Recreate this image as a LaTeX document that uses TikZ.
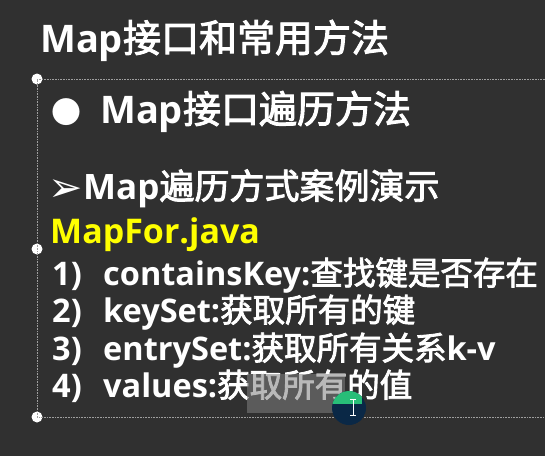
\documentclass[tikz,border=0pt]{standalone}
\usepackage{fontspec}
\setmainfont{Noto Sans CJK SC}[BoldFont={Noto Sans CJK SC}, BoldFeatures={FakeBold=2.5}]
\newfontfamily\latfont{Open Sans}
\newfontfamily\symfont{DejaVu Sans}
\newcommand{\lat}[1]{{\latfont\bfseries #1}}
\definecolor{board}{RGB}{48,48,48}
\definecolor{javayellow}{RGB}{255,255,0}
\definecolor{cursorblue}{RGB}{10,40,70}
\definecolor{cursorgreen}{RGB}{40,190,120}

\tikzset{
  slide/.style={text=white, anchor=base west, inner sep=0pt},
  heading/.style={slide, font=\fontsize{38}{40}\selectfont\bfseries},
  subhead/.style={slide, font=\fontsize{35}{38}\selectfont\bfseries},
  itemtxt/.style={slide, font=\fontsize{32.5}{35}\selectfont\bfseries},
  handle/.style={circle, fill=white, inner sep=0pt, minimum size=11pt},
  frame/.style={densely dotted, gray!75, line width=0.6pt}
}

\begin{document}
\begin{tikzpicture}[x=1pt,y=-1pt]
  \fill[board] (0,0) rectangle (545,456);
  \useasboundingbox (0,0) rectangle (545,456);

  % text box frame
  \coordinate (fr_t) at (545,79);
  \coordinate (fr_b) at (545,417);
  \node[handle] (h_1) at (37,79) {};
  \node[handle] (h_2) at (37,249) {};
  \node[handle] (h_3) at (37,417) {};
  \draw[frame] (fr_t) -- (h_1.center) -- (h_2.center) -- (h_3.center) -- (fr_b);

  \node[heading] (title) at (40,52) {\lat{Map}接口和常用方法};
  \node[slide, font=\fontsize{30}{30}\selectfont] (dot) at (51,123) {●};
  \node[heading] (sub_1) at (100,123) {\lat{Map}接口遍历方法};
  \node[subhead, font=\fontsize{41}{41}\selectfont] (arrow) at (48,201) {\symfont ➢};
  \node[subhead] (sub_2) at (83,199) {\lat{Map}遍历方式案例演示};
  \node[itemtxt, font=\fontsize{34}{36}\selectfont\bfseries, text=javayellow] (file) at (50,243) {\lat{MapFor.java}};

  \node[itemtxt] (n_1) at (52,285) {\lat{1)}};
  \node[itemtxt] (it_1) at (103,285) {\lat{containsKey:}查找键是否存在};
  \node[itemtxt] (n_2) at (52,322) {\lat{2)}};
  \node[itemtxt] (it_2) at (103,322) {\lat{keySet:}获取所有的键};
  \node[itemtxt] (n_3) at (52,360) {\lat{3)}};
  \node[itemtxt] (it_3) at (103,360) {\lat{entrySet:}获取所有关系\lat{k-v}};
  \node[itemtxt] (n_4) at (52,397) {\lat{4)}};
  \node[itemtxt] (it_4) at (103,397) {\lat{values:}获取所有的值};

  % selection and cursor
  \fill[gray, opacity=0.55] (247,374) rectangle (345,413);
  \begin{scope}
    \clip (349,408) circle (17);
    \fill[cursorblue] (349,408) circle (17);
    \fill[cursorgreen] (330,388) rectangle (362,404);
  \end{scope}
  \draw[white, line width=0.8pt] (353,399) -- (353,415) (350,399) -- (356,399) (350,415) -- (356,415);
\end{tikzpicture}
\end{document}
